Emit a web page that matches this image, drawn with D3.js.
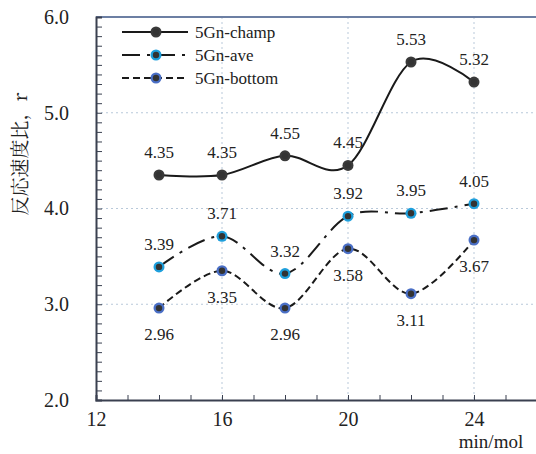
<!DOCTYPE html>
<html>
<head>
<meta charset="utf-8">
<script src="https://cdn.jsdelivr.net/npm/d3@7"></script>
<style>
  body { margin: 0; background: #fff; }
  .grid line { stroke: #b9c9da; stroke-dasharray: 2,3; stroke-width: 1; }
</style>
</head>
<body>
<div class="chart"></div>
<script>
/////////////
//Data
/////////////

// x values (min/mol)
var xs = [14, 16, 18, 20, 22, 24];

// series values
var champ  = [4.35, 4.35, 4.55, 4.45, 5.53, 5.32];
var ave    = [3.39, 3.71, 3.32, 3.92, 3.95, 4.05];
var bottom = [2.96, 3.35, 2.96, 3.58, 3.11, 3.67];

var seriesNames = ['5Gn-champ', '5Gn-ave', '5Gn-bottom'];

// tick labels
var xTickLabels = [12, 16, 20, 24];
var yTickLabels = [2, 3, 4, 5, 6];

/////////////
//Styling
/////////////
var SERIF = '"Liberation Serif"';
var styles = [
  {dash: null,        ring: '#3a3a3a', side: -1},
  {dash: '18,7,3,7',  ring: '#1e9fdc', side: -1},
  {dash: '7,4',       ring: '#4a6fc6', side: 1}
];

var w = 536, h = 454;
var mLeft = 96, mTop = 17, mBottom = 400;

var svg = d3.select('div.chart')
  .append('svg')
  .attr('width', w)
  .attr('height', h);

var x = d3.scaleLinear().domain([12, 26]).range([mLeft, mLeft + 14 * 31.5]);
var y = d3.scaleLinear().domain([2, 6]).range([mBottom, mTop]);

// grid
var grid = svg.append('g').attr('class', 'grid');
grid.selectAll('line.v')
  .data([16, 20, 24])
  .enter().append('line')
  .attr('x1', d => x(d)).attr('x2', d => x(d))
  .attr('y1', mTop).attr('y2', mBottom);
grid.selectAll('line.h')
  .data([3, 4, 5])
  .enter().append('line')
  .attr('x1', mLeft).attr('x2', w)
  .attr('y1', d => y(d)).attr('y2', d => y(d));

// top border
svg.append('line')
  .attr('x1', mLeft).attr('x2', w)
  .attr('y1', mTop).attr('y2', mTop)
  .attr('stroke', '#6c7fa3').attr('stroke-width', 2);

// axes (ticks pointing inside)
var yTicks = d3.range(20, 61).map(d => d / 10);
var yAxis = d3.axisLeft(y)
  .tickValues(yTicks)
  .tickSize(-6)
  .tickPadding(27)
  .tickFormat(d => (Math.abs(d - Math.round(d)) < 1e-6 && yTickLabels.indexOf(Math.round(d)) >= 0) ? d3.format('.1f')(d) : '');

var xAxis = d3.axisBottom(x)
  .tickValues(d3.range(12, 27))
  .tickSize(-5)
  .tickPadding(12)
  .tickFormat(d => xTickLabels.indexOf(d) >= 0 ? d : '');

var gy = svg.append('g')
  .attr('transform', `translate(${mLeft},0)`)
  .call(yAxis);
var gx = svg.append('g')
  .attr('transform', `translate(0,${mBottom})`)
  .call(xAxis);

[gx, gy].forEach(g => {
  g.select('.domain').attr('stroke', '#3a4050').attr('stroke-width', 2);
  g.selectAll('.tick line').attr('stroke', '#3a4050');
  g.selectAll('text')
    .style('font-family', SERIF)
    .style('font-size', '20px')
    .attr('fill', '#222');
});

// axis titles
svg.append('text')
  .attr('x', 491).attr('y', 448)
  .attr('text-anchor', 'middle')
  .style('font-family', SERIF)
  .style('font-size', '19px')
  .attr('fill', '#222')
  .text('min/mol');

svg.append('text')
  .attr('transform', 'translate(27,154) rotate(-90)')
  .attr('text-anchor', 'middle')
  .style('font-family', '"Noto Serif CJK JP"')
  .style('font-size', '19px')
  .attr('fill', '#222')
  .text('反応速度比，r');

////////////////////
//Lines and points
////////////////////
var line = d3.line()
  .x(d => x(d.x))
  .y(d => y(d.v))
  .curve(d3.curveCardinal.tension(0));

var allSeries = [champ, ave, bottom].map((vals, i) => ({
  name: seriesNames[i],
  style: styles[i],
  pts: vals.map((v, j) => ({x: xs[j], v: v}))
}));

var sg = svg.selectAll('g.series')
  .data(allSeries)
  .enter().append('g')
  .attr('class', 'series');

sg.append('path')
  .attr('d', d => line(d.pts))
  .attr('fill', 'none')
  .attr('stroke', '#1a1a1a')
  .attr('stroke-width', 2)
  .attr('stroke-dasharray', d => d.style.dash);

function drawMarker(sel, st) {
  sel.append('circle')
    .attr('r', 5.5)
    .attr('fill', st.ring);
  sel.append('circle')
    .attr('r', 3.2)
    .attr('fill', '#333');
}

sg.each(function(s) {
  var g = d3.select(this);
  s.pts.forEach(p => {
    var m = g.append('g').attr('transform', `translate(${x(p.x)},${y(p.v)})`);
    drawMarker(m, s.style);
  });
  g.selectAll('text.val')
    .data(s.pts)
    .enter().append('text')
    .attr('class', 'val')
    .attr('x', d => x(d.x))
    .attr('y', d => y(d.v) + (s.style.side < 0 ? -17 : 32))
    .attr('text-anchor', 'middle')
    .style('font-family', SERIF)
    .style('font-size', '17px')
    .attr('fill', '#222')
    .text(d => d3.format('.2f')(d.v));
});

////////////////////
//Legend
////////////////////
var legend = svg.selectAll('g.legend')
  .data(allSeries)
  .enter().append('g')
  .attr('class', 'legend')
  .attr('transform', (d, i) => `translate(122,${32 + i * 23})`);

legend.append('line')
  .attr('x1', 0).attr('x2', 66)
  .attr('stroke', '#1a1a1a')
  .attr('stroke-width', 2)
  .attr('stroke-dasharray', d => d.style.dash);

legend.each(function(d) {
  var m = d3.select(this).append('g').attr('transform', 'translate(34,0)');
  drawMarker(m, d.style);
});

legend.append('text')
  .attr('x', 73)
  .attr('dy', '0.35em')
  .style('font-family', SERIF)
  .style('font-size', '17px')
  .attr('fill', '#222')
  .text(d => d.name);
</script>
</body>
</html>
